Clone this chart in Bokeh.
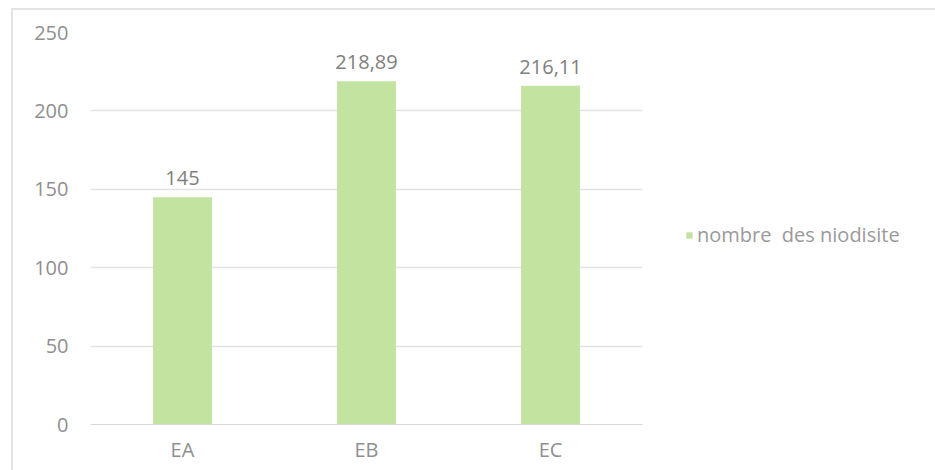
from bokeh.plotting import figure
from bokeh.models import ColumnDataSource, Legend, LegendItem, FixedTicker, Range1d
from bokeh.core.properties import value
from bokeh.embed import file_html
from bokeh.resources import INLINE

categories = ["EA", "EB", "EC"]
values = [145, 218.89, 216.11]
value_labels = ["145", "218,89", "216,11"]
series_name = "nombre  des niodisite"
y_ticks = [0, 50, 100, 150, 200, 250]

FONT = "Open Sans"
BAR = "#c3e3a1"

src = ColumnDataSource(dict(cat=categories, val=values, lab=value_labels))

p = figure(x_range=categories, y_range=Range1d(0, 250),
           frame_width=552, frame_height=392, output_backend="svg", toolbar_location=None,
           min_border_left=77, min_border_top=22, min_border_bottom=48,
           min_border_right=280, margin=(8, 0, 0, 11),
           styles={"border-top": "2px solid #e3e3e3", "border-left": "2px solid #e3e3e3"})
p.outline_line_color = None
p.background_fill_color = "white"
p.border_fill_color = "white"

r = p.vbar(x="cat", top="val", width=0.32, source=src, fill_color=BAR, line_color=None)
p.text(x="cat", y="val", text="lab", source=src, text_align="center", text_baseline="bottom",
       y_offset=-12, text_font=value(FONT), text_font_size="20px", text_color="#808080")

p.yaxis.ticker = FixedTicker(ticks=y_ticks)
p.yaxis.axis_line_color = None
p.yaxis.major_tick_line_color = None
p.yaxis.minor_tick_line_color = None
p.yaxis.major_tick_out = 0
p.yaxis.major_label_standoff = 22
p.yaxis.major_label_text_font = FONT
p.yaxis.major_label_text_font_size = "20px"
p.yaxis.major_label_text_color = "#8f8f8f"

p.xaxis.axis_line_color = "#d9d9d9"
p.xaxis.major_tick_line_color = None
p.xaxis.major_tick_out = 0
p.xaxis.major_label_standoff = 11
p.xaxis.major_label_text_font = FONT
p.xaxis.major_label_text_font_size = "20px"
p.xaxis.major_label_text_color = "#8f8f8f"

p.xgrid.grid_line_color = None
p.ygrid.grid_line_color = "#e3e3e3"
p.ygrid.grid_line_width = 1.5

legend = Legend(items=[LegendItem(label=series_name, renderers=[r])],
                location=(43, 176), padding=0, margin=0, border_line_color=None,
                background_fill_alpha=0, glyph_width=8, glyph_height=8, label_standoff=4,
                label_text_font=FONT, label_text_font_size="20px", label_text_color="#9a9a9a")
p.add_layout(legend, "right")

open("out.html", "w").write(file_html(p, INLINE))
